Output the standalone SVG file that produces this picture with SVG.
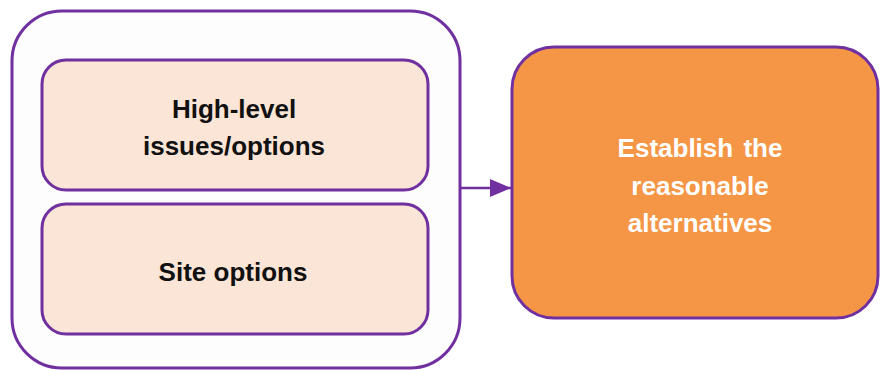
<svg xmlns="http://www.w3.org/2000/svg" width="881" height="370" viewBox="0 0 881 370">
<style>
.box{stroke:#7030A0;stroke-width:3}
.t{font-family:"Liberation Sans",Arial,sans-serif;font-weight:bold;font-size:26px;text-anchor:middle}
</style>
<defs>
<marker id="arr" markerWidth="22" markerHeight="20" refX="21" refY="10" orient="auto" markerUnits="userSpaceOnUse">
<path d="M0,1 L21,10 L0,19 Z" fill="#7030A0"/>
</marker>
</defs>
<rect width="881" height="370" fill="#ffffff"/>
<g id="group-outer">
<rect class="box" x="12" y="11" width="448" height="357" rx="50" fill="#fdfdfe"/>
</g>
<g id="node-high-level">
<rect class="box" x="42" y="60" width="386" height="130" rx="24" fill="#FBE5D6"/>
<text class="t" x="234" y="118" fill="#111">High-level</text>
<text class="t" x="234" y="155" fill="#111">issues/options</text>
</g>
<g id="node-site">
<rect class="box" x="42" y="204" width="386" height="130" rx="24" fill="#FBE5D6"/>
<text class="t" x="233" y="281" fill="#111">Site options</text>
</g>
<g id="node-establish">
<rect class="box" x="512" y="47" width="366" height="271" rx="42" fill="#F59646"/>
<text class="t" x="700" y="157" fill="#ffffff" word-spacing="3">Establish the</text>
<text class="t" x="700" y="195" fill="#ffffff">reasonable</text>
<text class="t" x="700" y="232" fill="#ffffff">alternatives</text>
</g>
<g id="connectors">
<line x1="460" y1="188" x2="511" y2="188" stroke="#7030A0" stroke-width="2.5" marker-end="url(#arr)"/>
</g>
</svg>
